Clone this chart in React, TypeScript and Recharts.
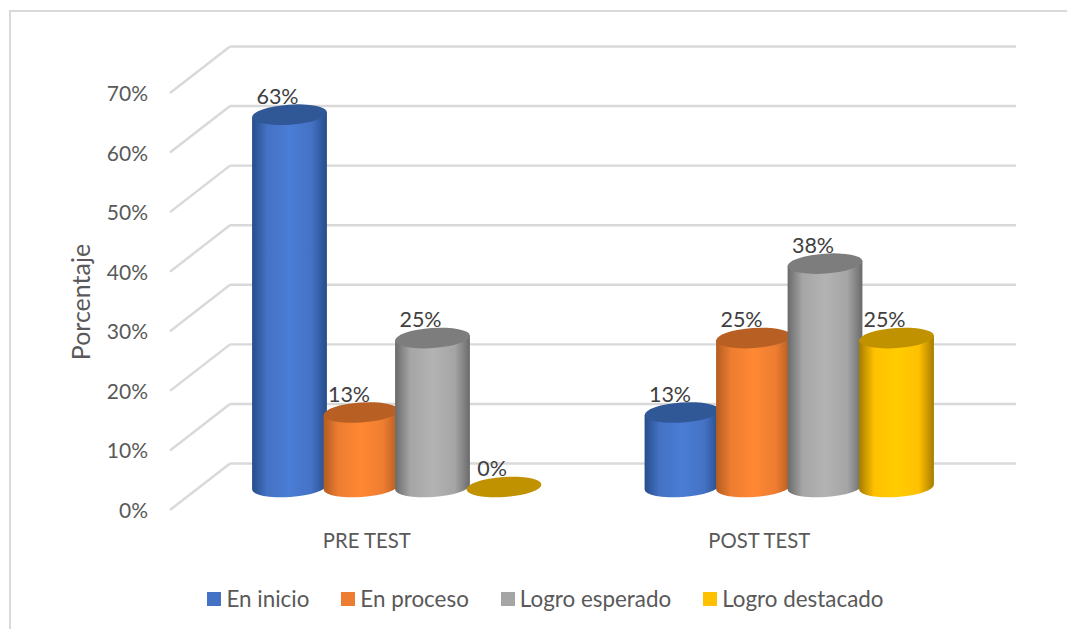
// App.tsx
import { BarChart, Bar, XAxis, YAxis, CartesianGrid, Legend, LabelList } from 'recharts';

const categories = ['PRE TEST', 'POST TEST'];
const enInicio = [62.5, 12.5];
const enProceso = [12.5, 25];
const logroEsperado = [25, 37.5];
const logroDestacado = [0, 25];
const yTicks = [0, 10, 20, 30, 40, 50, 60, 70];

const chartData = categories.map((name, i) => ({
  name,
  enInicio: enInicio[i],
  enProceso: enProceso[i],
  logroEsperado: logroEsperado[i],
  logroDestacado: logroDestacado[i],
}));

const FONT = 'Lato, "Open Sans", sans-serif';
const GRID = '#d9d9d9';
// how far the floor of the 3D box is pushed back / forward from the bar base
const BACK = 23.5;
const FRONT = 23;
const WALL_X = 230;
const FRONT_X = 170;
const WALL_END = 1016;
const RY = 10;
const TILT = 4;

const series = [
  { key: 'enInicio', name: 'En inicio', fill: '#4472c4', edge: '#264c8a', mid: '#4a7dd6', top: '#305796' },
  { key: 'enProceso', name: 'En proceso', fill: '#ed7d31', edge: '#b35c20', mid: '#ff8833', top: '#b86024' },
  { key: 'logroEsperado', name: 'Logro esperado', fill: '#a5a5a5', edge: '#6a6a6a', mid: '#b3b3b3', top: '#7d7d7d' },
  { key: 'logroDestacado', name: 'Logro destacado', fill: '#ffc000', edge: '#a67c00', mid: '#ffcc00', top: '#c09200' },
];

// cylinder drawn from the rectangle the Bar hands over
const Cylinder = ({ x, y, width, height, top, gradient }: any) => {
  const rx = width / 2;
  const cx = x + rx;
  const rad = (TILT * Math.PI) / 180;
  const dx = rx * Math.cos(rad);
  const dy = rx * Math.sin(rad);
  const base = y + height;
  const body = `M${cx - dx} ${y + dy} L${cx - dx} ${base + dy} A${rx} ${RY} ${-TILT} 0 0 ${cx + dx} ${base - dy} L${cx + dx} ${y - dy} Z`;
  return (
    <g>
      {height > 0 && <path d={body} fill={`url(#${gradient})`} />}
      <ellipse cx={cx} cy={y} rx={rx} ry={RY} fill={top} transform={`rotate(${-TILT} ${cx} ${y})`} />
    </g>
  );
};

const WallLine = ({ y1 }: any) => (
  <g stroke={GRID} strokeWidth={2.4} fill="none">
    <line x1={WALL_X} y1={y1 - BACK} x2={WALL_END} y2={y1 - BACK} />
    <line x1={FRONT_X} y1={y1 + FRONT} x2={WALL_X} y2={y1 - BACK} />
  </g>
);

const YTick = ({ y, payload }: any) => (
  <text x={148} y={y + FRONT + 8} textAnchor="end" fontSize={21} fontFamily={FONT} fill="#595959">
    {payload.value}%
  </text>
);

const XTick = ({ x, y, payload }: any) => (
  <text x={x - 29.5} y={y + 53} textAnchor="middle" fontSize={20.3} fontFamily={FONT} fill="#595959">
    {payload.value}
  </text>
);

const ValueLabel = ({ x, y, width, value }: any) => (
  <text x={x + width / 2 - 12} y={y - 11} textAnchor="middle" fontSize={21.5} fontFamily={FONT} fill="#404040">
    {Math.round(value)}%
  </text>
);

const AxisTitle = () => (
  <text x={90} y={302} transform="rotate(-90 90 302)" textAnchor="middle" fontSize={25} fontFamily={FONT} fill="#595959">
    Porcentaje
  </text>
);

const LegendRow = ({ payload }: any) => (
  <div style={{ display: 'flex', justifyContent: 'center', gap: 32, fontFamily: FONT, fontSize: 22.4, color: '#595959' }}>
    {payload.map((item: any) => (
      <div key={item.value} style={{ display: 'flex', alignItems: 'center', gap: 5 }}>
        <span style={{ width: 14, height: 14, background: item.color, display: 'inline-block' }} />
        <span>{item.value}</span>
      </div>
    ))}
  </div>
);

export default function App() {
  return (
    <div style={{ position: 'absolute', left: 0, top: 0, width: 1067, height: 629, background: '#fff', overflow: 'hidden' }}>
      <div style={{ position: 'absolute', left: 9, top: 10, right: 0, bottom: 0, borderLeft: `2px solid ${GRID}`, borderTop: `2px solid ${GRID}` }} />
      <BarChart
        width={1067}
        height={629}
        data={chartData}
        barSize={75}
        barGap={-3.5}
        margin={{ top: 70, right: 82, bottom: 0, left: 0 }}
        style={{ position: 'absolute', left: 0, top: 0 }}
      >
        <defs>
          {series.map((s) => (
            <linearGradient key={s.key} id={`grad-${s.key}`} x1="0" y1="0" x2="1" y2="0">
              <stop offset="0" stopColor={s.edge} />
              <stop offset="0.2" stopColor={s.fill} />
              <stop offset="0.5" stopColor={s.mid} />
              <stop offset="0.8" stopColor={s.fill} />
              <stop offset="1" stopColor={s.edge} />
            </linearGradient>
          ))}
        </defs>
        <CartesianGrid vertical={false} horizontal={(props: any) => <WallLine key={props.key} {...props} />} />
        <XAxis dataKey="name" height={142} axisLine={false} tickLine={false} tick={<XTick />} interval={0} />
        <YAxis
          width={200}
          domain={[0, 70]}
          ticks={yTicks}
          axisLine={false}
          tickLine={false}
          tick={<YTick />}
          label={{ content: () => <AxisTitle /> }}
        />
        <Legend
          layout="horizontal"
          verticalAlign="middle"
          align="center"
          itemSorter={null}
          content={<LegendRow />}
          wrapperStyle={{ position: 'absolute', top: 585, left: 0, width: 1091 }}
        />
        {series.map((s) => (
          <Bar
            key={s.key}
            dataKey={s.key}
            name={s.name}
            fill={s.fill}
            isAnimationActive={false}
            shape={(props: any) => <Cylinder {...props} top={s.top} gradient={`grad-${s.key}`} />}
          >
            <LabelList dataKey={s.key} content={<ValueLabel />} />
          </Bar>
        ))}
      </BarChart>
    </div>
  );
}
